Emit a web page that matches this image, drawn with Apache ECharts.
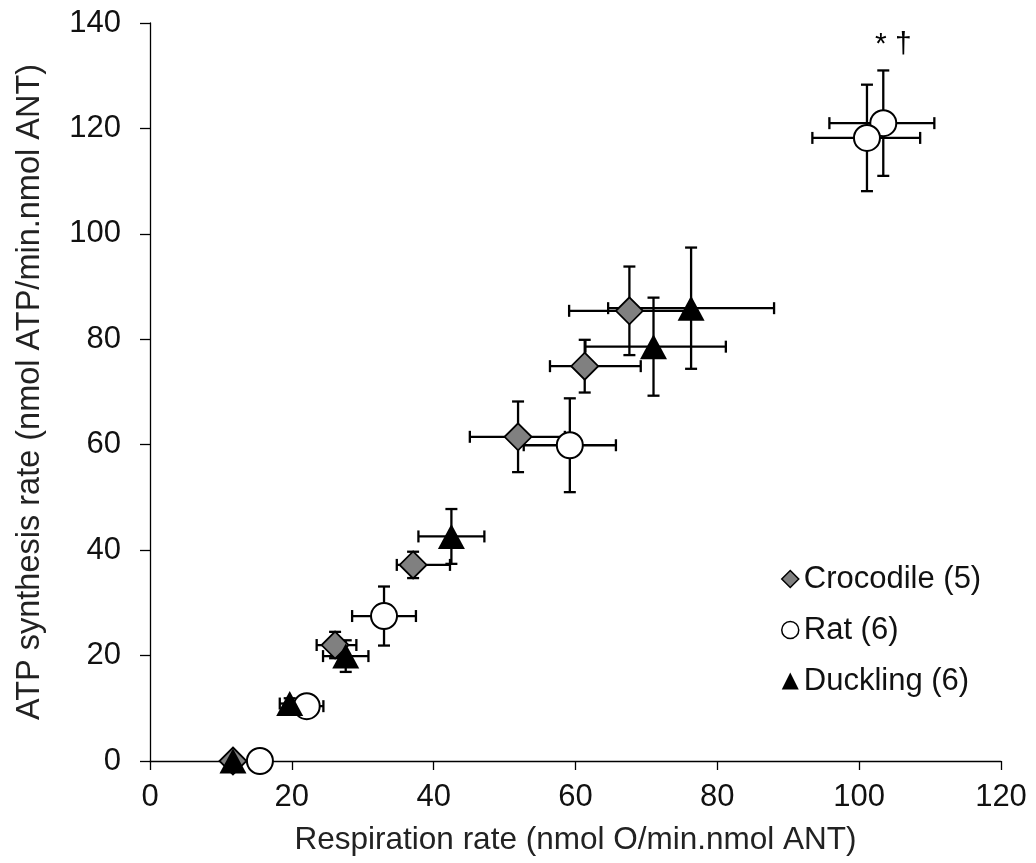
<!DOCTYPE html>
<html>
<head>
<meta charset="utf-8">
<script src="https://cdn.jsdelivr.net/npm/echarts@6/dist/echarts.min.js"></script>
<style>
html,body{margin:0;padding:0;background:#fff;}
#chart{width:1036px;height:863px;}
</style>
</head>
<body>
<div id="chart"></div>
<script>
// ---- Data ----
const xTicks = [0, 20, 40, 60, 80, 100, 120];
const yTicks = [0, 20, 40, 60, 80, 100, 120, 140];

const seriesNames = ['Crocodile (5)', 'Rat (6)', 'Duckling (6)'];

const crocX      = [11.7, 26.1, 37.1, 51.9, 61.3, 67.6];
const crocY      = [0.0, 22.0, 37.2, 61.5, 74.9, 85.4];
const crocXErrLo = [0.5, 2.6, 2.3, 6.8, 4.9, 8.5];
const crocXErrHi = [0.5, 3.0, 5.2, 6.6, 7.9, 8.5];
const crocYErr   = [0.5, 2.5, 2.5, 6.7, 5.0, 8.4];

const ratX      = [15.5, 22.1, 33.0, 59.2, 103.4, 101.1];
const ratY      = [0.0, 10.4, 27.5, 59.9, 121.0, 118.2];
const ratXErrLo = [0.5, 2.35, 4.5, 6.5, 7.6, 7.7];
const ratXErrHi = [0.5, 2.35, 4.5, 6.5, 7.2, 7.5];
const ratYErr   = [0.5, 1.0, 5.6, 8.9, 10.0, 10.1];

const duckX      = [11.7, 19.7, 27.6, 42.5, 71.0, 76.3];
const duckY      = [0.0, 10.9, 19.9, 42.6, 78.6, 85.9];
const duckXErrLo = [0.5, 1.4, 3.2, 4.65, 9.6, 11.7];
const duckXErrHi = [0.5, 1.4, 3.2, 4.65, 10.2, 11.7];
const duckYErr   = [0.5, 1.0, 3.0, 5.2, 9.3, 11.5];

const annotationText = '* \u2020';
const annotationIndex = 4; // rat point the annotation belongs to

// ---- Build ----
function pts(xs, ys) { return xs.map((x, i) => [x, ys[i]]); }
function errs(xs, ys, xl, xh, ye) {
  return xs.map((x, i) => [x, ys[i], xl[i], xh[i], ye[i]]);
}

const FONT = '"Liberation Sans", Arial, sans-serif';
const CAP = 6;

function renderErr(params, api) {
  const x = api.value(0), y = api.value(1);
  const xl = api.value(2), xh = api.value(3), ye = api.value(4);
  const pL = api.coord([x - xl, y]);
  const pR = api.coord([x + xh, y]);
  const pT = api.coord([x, y + ye]);
  const pB = api.coord([x, y - ye]);
  const st = { stroke: '#000', lineWidth: 2.3 };
  const line = (x1, y1, x2, y2) => ({ type: 'line', shape: { x1, y1, x2, y2 }, style: st });
  return {
    type: 'group',
    children: [
      line(pL[0], pL[1], pR[0], pR[1]),
      line(pL[0], pL[1] - CAP, pL[0], pL[1] + CAP),
      line(pR[0], pR[1] - CAP, pR[0], pR[1] + CAP),
      line(pT[0], pT[1], pB[0], pB[1]),
      line(pT[0] - CAP, pT[1], pT[0] + CAP, pT[1]),
      line(pB[0] - CAP, pB[1], pB[0] + CAP, pB[1])
    ]
  };
}

const chart = echarts.init(document.getElementById('chart'), null, { renderer: 'canvas' });

const option = {
  backgroundColor: '#ffffff',
  animation: false,
  textStyle: { fontFamily: FONT },
  grid: { left: 150, right: 35, top: 23, bottom: 102, containLabel: false },
  legend: {
    orient: 'vertical',
    left: 776,
    top: 558,
    itemWidth: 17,
    itemHeight: 17,
    itemGap: 19,
    textStyle: { fontSize: 31, color: '#111', fontFamily: FONT, lineHeight: 32 },
    data: [
      { name: seriesNames[0], icon: 'diamond', itemStyle: { color: '#808080', borderColor: '#000', borderWidth: 1.5 } },
      { name: seriesNames[1], icon: 'circle', itemStyle: { color: '#fff', borderColor: '#000', borderWidth: 1.5 } },
      { name: seriesNames[2], icon: 'triangle', itemStyle: { color: '#000', borderColor: '#000', borderWidth: 0 } }
    ]
  },
  xAxis: {
    type: 'value',
    min: xTicks[0], max: xTicks[xTicks.length - 1], interval: 20,
    name: 'Respiration rate (nmol O/min.nmol ANT)',
    nameLocation: 'middle', nameGap: 63,
    nameTextStyle: { fontSize: 31.5, color: '#222', fontFamily: FONT },
    axisLine: { show: true, onZero: false, lineStyle: { color: '#000', width: 1.3 } },
    axisTick: { show: true, inside: false, length: 9, lineStyle: { color: '#000', width: 1.3 } },
    axisLabel: { fontSize: 31, color: '#111', margin: 21, fontFamily: FONT },
    splitLine: { show: false }
  },
  yAxis: {
    type: 'value',
    min: yTicks[0], max: yTicks[yTicks.length - 1], interval: 20,
    name: 'ATP synthesis rate (nmol ATP/min.nmol ANT)',
    nameLocation: 'middle', nameGap: 103, nameRotate: 90,
    nameTextStyle: { fontSize: 32.5, color: '#222', fontFamily: FONT },
    axisLine: { show: true, onZero: false, lineStyle: { color: '#000', width: 1.3 } },
    axisTick: { show: true, inside: false, length: 10, lineStyle: { color: '#000', width: 1.3 } },
    axisLabel: { fontSize: 31, color: '#111', margin: 29, fontFamily: FONT },
    splitLine: { show: false }
  },
  series: [
    { type: 'custom', name: 'errC', renderItem: renderErr, z: 1, silent: true,
      encode: { x: 0, y: 1 }, data: errs(crocX, crocY, crocXErrLo, crocXErrHi, crocYErr) },
    { type: 'custom', name: 'errR', renderItem: renderErr, z: 1, silent: true,
      encode: { x: 0, y: 1 }, data: errs(ratX, ratY, ratXErrLo, ratXErrHi, ratYErr) },
    { type: 'custom', name: 'errD', renderItem: renderErr, z: 1, silent: true,
      encode: { x: 0, y: 1 }, data: errs(duckX, duckY, duckXErrLo, duckXErrHi, duckYErr) },
    { type: 'scatter', name: seriesNames[0], symbol: 'diamond', symbolSize: 27, z: 3,
      itemStyle: { color: '#808080', borderColor: '#000', borderWidth: 1.8, opacity: 1 },
      data: pts(crocX, crocY) },
    { type: 'scatter', name: seriesNames[1], symbol: 'circle', symbolSize: 26, z: 4,
      itemStyle: { color: '#ffffff', borderColor: '#000', borderWidth: 2, opacity: 1 },
      data: pts(ratX, ratY) },
    { type: 'scatter', name: seriesNames[2], symbol: 'triangle', symbolSize: [27, 25], z: 5,
      itemStyle: { color: '#000000', borderColor: '#000', borderWidth: 0, opacity: 1 },
      data: pts(duckX, duckY) }
  ]
};
chart.setOption(option);

// annotation "* †" above the rat point, positioned through the axes
const pAnn = chart.convertToPixel({ gridIndex: 0 }, [ratX[annotationIndex], ratY[annotationIndex] + ratYErr[annotationIndex]]);
chart.setOption({
  graphic: [{
    type: 'text',
    x: pAnn[0] + 10,
    y: pAnn[1] - 26,
    style: { text: annotationText, font: '30px "Liberation Sans", Arial, sans-serif', fill: '#000', textAlign: 'center', textVerticalAlign: 'middle' }
  }]
});
</script>
</body>
</html>
